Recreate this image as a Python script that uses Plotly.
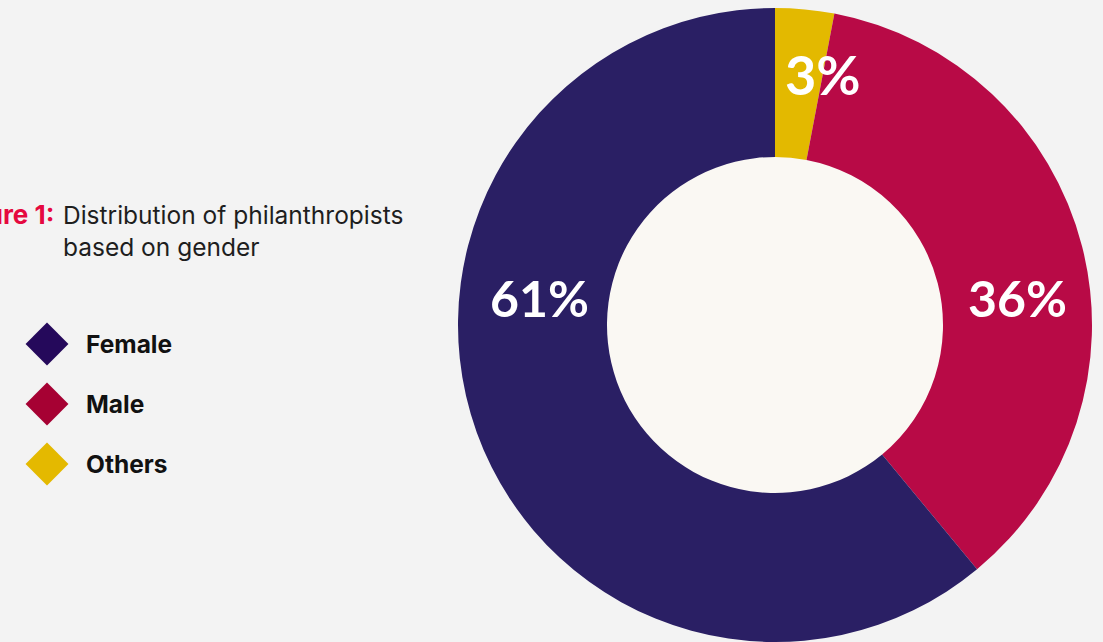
import plotly.graph_objects as go

# Share of philanthropists by gender (percent)
categories = ["Female", "Male", "Others"]
shares = [61, 36, 3]
slice_colors = ["#2a1f64", "#b80a46", "#e3b900"]
legend_colors = ["#25095b", "#a60133", "#e4b900"]

W, H = 1103, 642
cx, cy, R = 775, 325, 317
hole_frac = 0.53

# pie domain in paper units, derived from centre and radius in pixels
dom_x = [(cx - R) / W, (cx + R) / W]
dom_y = [1 - (cy + R) / H, 1 - (cy - R) / H]

fig = go.Figure()

# slices run clockwise from 12 o'clock: Others, Male, then Female
fig.add_trace(go.Pie(
    labels=categories[::-1],
    values=shares[::-1],
    sort=False,
    direction="clockwise",
    rotation=0,
    hole=hole_frac,
    marker=dict(colors=slice_colors[::-1], line=dict(width=0)),
    textinfo="none",
    hoverinfo="label+percent",
    showlegend=False,
    domain=dict(x=dom_x, y=dom_y),
))

# custom diamond legend drawn on a pixel-scaled overlay axis
legend_x = 47
legend_y0, legend_step = 344, 60
legend_y = [legend_y0 + i * legend_step for i in range(len(categories))]
fig.add_trace(go.Scatter(
    x=[legend_x] * len(categories),
    y=legend_y,
    mode="markers",
    marker=dict(symbol="diamond", size=33, color=legend_colors,
                line=dict(width=0)),
    hoverinfo="skip",
    showlegend=False,
))

annotations = []
for name, yy in zip(categories, legend_y):
    annotations.append(dict(
        x=84, y=yy, xref="x", yref="y", xanchor="left", yanchor="middle",
        text=f"<b>{name}</b>", showarrow=False,
        font=dict(family="Inter", size=24.5, color="#111111"),
    ))

# percentage labels on the ring
label_pos = {"Female": (539, 298, 50), "Male": (1017, 298, 50), "Others": (823, 74, 54)}
for name, val in zip(categories, shares):
    lx, ly, fs = label_pos[name]
    annotations.append(dict(
        x=lx, y=ly, xref="x", yref="y", xanchor="center", yanchor="middle",
        text=f"<b>{val}%</b>", showarrow=False,
        font=dict(family="Lato", size=fs, color="#ffffff"),
    ))

# figure caption
annotations.append(dict(
    x=56, y=214, xref="x", yref="y", xanchor="right", yanchor="middle",
    text="<b>Figure 1:</b>", showarrow=False,
    font=dict(family="Inter", size=26, color="#e5093f"),
))
annotations.append(dict(
    x=61, y=231, xref="x", yref="y", xanchor="left", yanchor="middle",
    text="Distribution of philanthropists<br>based on gender", showarrow=False,
    align="left",
    font=dict(family="Inter", size=24.5, color="#1e1e1e"),
))

fig.update_layout(
    width=W, height=H,
    margin=dict(l=0, r=0, t=0, b=0),
    paper_bgcolor="#f3f3f3",
    plot_bgcolor="rgba(0,0,0,0)",
    xaxis=dict(range=[0, W], visible=False, domain=[0, 1], fixedrange=True),
    yaxis=dict(range=[H, 0], visible=False, domain=[0, 1], fixedrange=True),
    annotations=annotations,
    shapes=[dict(
        type="circle", xref="x", yref="y", layer="below",
        x0=cx - R * hole_frac - 1, x1=cx + R * hole_frac + 1,
        y0=cy - R * hole_frac - 1, y1=cy + R * hole_frac + 1,
        fillcolor="#faf8f3", line=dict(width=0),
    )],
)

fig.write_html("out.html")
